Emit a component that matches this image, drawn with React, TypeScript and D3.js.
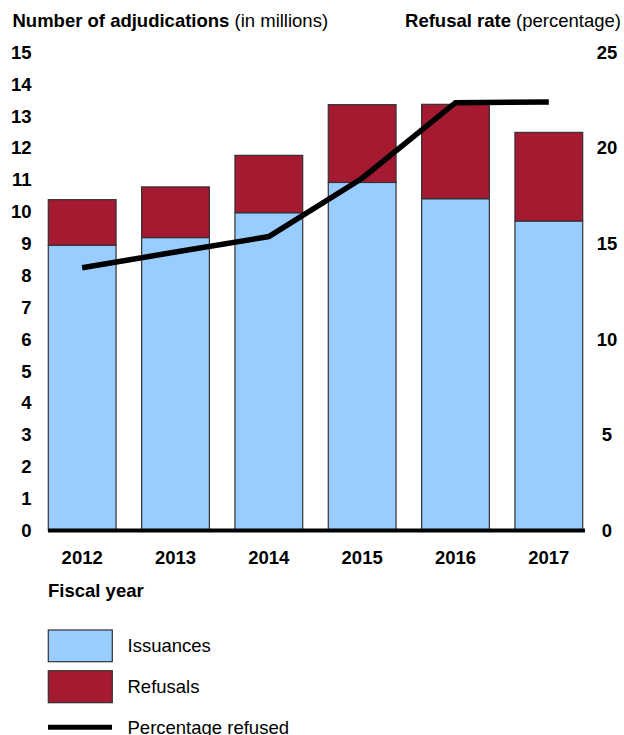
import React from "react";
import * as d3 from "d3";

const years = ["2012", "2013", "2014", "2015", "2016", "2017"];
const issuances = [8.95, 9.19, 9.97, 10.92, 10.41, 9.71];
const refusals = [1.43, 1.59, 1.8, 2.44, 2.96, 2.78];
const refusalRate = [13.74, 14.56, 15.37, 18.42, 22.37, 22.41];
const leftTicks = d3.range(0, 16, 1);
const rightTicks = [0, 5, 10, 15, 20, 25];

const W = 624;
const H = 735;
const BLUE = "#99CCFF";
const RED = "#A51931";
const FONT = "'Liberation Sans', Arial, sans-serif";
const FS = 18.5;

export default function App() {
  const x = d3.scaleBand<string>().domain(years).range([48.3, 582.7]).paddingInner(0.274).paddingOuter(0);
  const yL = d3.scaleLinear().domain([0, 15]).range([530.5, 52.4]);
  const yR = d3.scaleLinear().domain([0, 25]).range([530.5, 52.4]);
  const line = d3
    .line<number>()
    .x((_, i) => (x(years[i]) as number) + x.bandwidth() / 2)
    .y((d) => yR(d));

  return (
    <svg width={W} height={H} style={{ position: "absolute", left: 0, top: 0 }} fontFamily={FONT}>
      <rect width={W} height={H} fill="#fff" />
      <text x={12.5} y={26.5} fontSize={FS} fill="#000">
        <tspan fontWeight="bold">Number of adjudications</tspan>
        <tspan> (in millions)</tspan>
      </text>
      <text x={621} y={26.5} fontSize={FS} fill="#000" textAnchor="end">
        <tspan fontWeight="bold">Refusal rate</tspan>
        <tspan> (percentage)</tspan>
      </text>
      {leftTicks.map((t) => (
        <text key={"l" + t} x={31.5} y={yL(t)} dy="0.35em" fontSize={FS} fontWeight="bold" textAnchor="end">
          {t}
        </text>
      ))}
      {rightTicks.map((t) => (
        <text key={"r" + t} x={607} y={yR(t)} dy="0.35em" fontSize={FS} fontWeight="bold" textAnchor="middle">
          {t}
        </text>
      ))}
      {years.map((yr, i) => {
        const bx = x(yr) as number;
        const bw = x.bandwidth();
        return (
          <g key={yr}>
            <rect x={bx} y={yL(issuances[i])} width={bw} height={yL(0) - yL(issuances[i])} fill={BLUE} stroke="#333" strokeWidth={1.2} />
            <rect
              x={bx}
              y={yL(issuances[i] + refusals[i])}
              width={bw}
              height={yL(issuances[i]) - yL(issuances[i] + refusals[i])}
              fill={RED}
              stroke="#333"
              strokeWidth={1.2}
            />
            <text x={bx + bw / 2} y={558} dy="0.35em" fontSize={FS} fontWeight="bold" textAnchor="middle">
              {yr}
            </text>
          </g>
        );
      })}
      <line x1={48} x2={585} y1={yL(0)} y2={yL(0)} stroke="#000" strokeWidth={4} />
      <path d={line(refusalRate) || ""} fill="none" stroke="#000" strokeWidth={5.5} strokeLinejoin="miter" />
      <text x={48} y={591} dy="0.35em" fontSize={FS} fontWeight="bold">
        Fiscal year
      </text>
      <rect x={48.3} y={630} width={64} height={31.7} fill={BLUE} stroke="#333" strokeWidth={1.2} />
      <text x={127.5} y={646} dy="0.35em" fontSize={FS}>Issuances</text>
      <rect x={48.3} y={670.7} width={64} height={32} fill={RED} stroke="#333" strokeWidth={1.2} />
      <text x={127.5} y={687} dy="0.35em" fontSize={FS}>Refusals</text>
      <line x1={48} x2={112} y1={727.3} y2={727.3} stroke="#000" strokeWidth={5} />
      <text x={127.5} y={728} dy="0.35em" fontSize={FS}>Percentage refused</text>
    </svg>
  );
}
